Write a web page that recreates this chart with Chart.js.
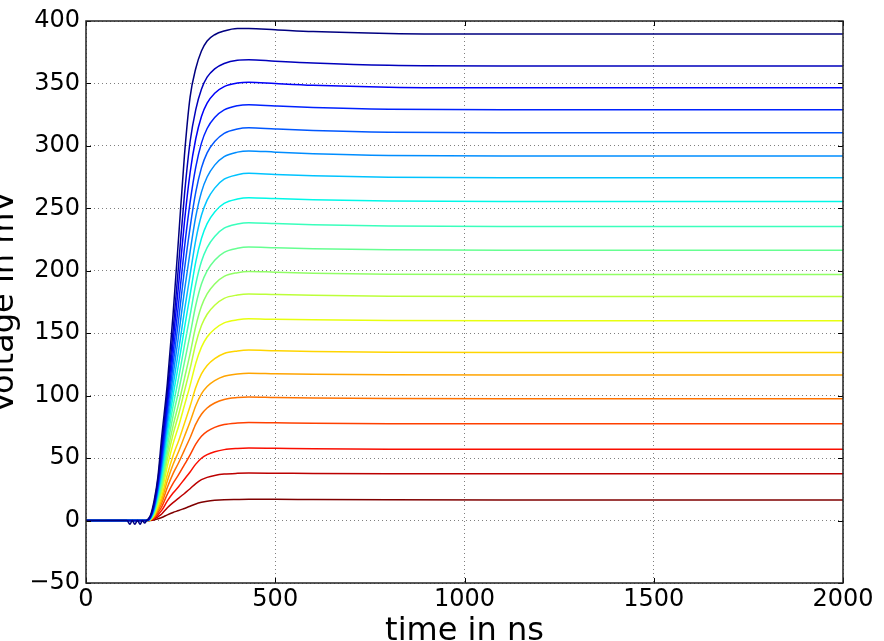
<!DOCTYPE html>
<html>
<head>
<meta charset="utf-8">
<script src="https://cdn.jsdelivr.net/npm/chart.js@4.4.1/dist/chart.umd.min.js"></script>
<style>
  html, body { margin: 0; padding: 0; background: #fff; overflow: hidden; }
  #wrap { width: 884px; height: 641px; }
</style>
</head>
<body>
<div id="wrap"><canvas id="chart" width="884" height="641"></canvas></div>
<script>
// baseline before the pulse (ns) - only the top trace shows the ringing
const baseTime   = [0, 108, 116, 122, 129, 136, 143, 149, 155];
const baseWiggle = [0, 0, -3, 0, -3, 0, -3, 0, -2];
const baseFlat   = [0, 0, 0, 0, 0, 0, 0, 0, 0];

// pulse rise and plateau (ns)
const riseTime = [160, 170, 180, 190, 200, 215, 230, 245, 260, 275, 290, 305, 320, 340, 365, 400, 430, 500, 600, 800, 1100, 2000];

// traces in mV, highest first
const trace01 = [0, 4, 16, 35, 67, 110, 165, 228, 292, 339, 362, 376, 384, 389, 392, 394, 394, 393, 391.5, 390, 389.5, 389.5];
const trace02 = [0, 3.3, 14, 32.5, 60.5, 102.6, 152, 206, 260.5, 303.3, 329.1, 345.4, 355, 361.7, 366, 368.6, 369, 367.8, 366.3, 364.5, 364, 364];
const trace03 = [0, 2.9, 12.8, 30.4, 56, 97, 142.5, 190, 238.9, 278.5, 305.7, 323.6, 334.2, 342.2, 347.5, 350.3, 351, 349.9, 348.5, 347, 346.5, 346.5];
const trace04 = [0, 2.5, 11.7, 28.3, 51.6, 91.6, 133.2, 174.8, 218.1, 254.7, 283, 302.2, 313.9, 322.7, 328.8, 332.2, 333, 332, 330.8, 329.4, 329, 329];
const trace05 = [0, 2.2, 10.7, 26.4, 47.8, 86.2, 124.5, 161.7, 200.6, 234.6, 262.9, 282.4, 294.4, 303.5, 310.1, 313.6, 314.5, 313.5, 312.3, 310.9, 310.5, 310.5];
const trace06 = [0, 1.9, 9.8, 24.6, 44.1, 80.8, 116, 148.9, 183.8, 215.2, 243.3, 263, 275.1, 284.6, 291.4, 295, 296, 295, 293.8, 292.4, 292, 292];
const trace07 = [0, 1.7, 8.9, 22.8, 40.6, 75.6, 107.9, 136.8, 167.9, 196.8, 224.6, 244.4, 256.6, 266.2, 273.3, 276.9, 278, 277.1, 276.1, 274.9, 274.5, 274.5];
const trace08 = [0, 1.5, 8.1, 21.1, 37.4, 70.2, 99.8, 125.8, 153.9, 180.6, 207.1, 225.9, 237.8, 247.1, 253.9, 257.4, 258.5, 257.8, 256.9, 255.8, 255.5, 255.5];
const trace09 = [0, 1.3, 7.4, 19.3, 34.1, 64.6, 91.6, 114.7, 140, 164.3, 189.4, 207.4, 218.6, 227.5, 234.1, 237.4, 238.5, 237.8, 236.9, 235.8, 235.5, 235.5];
const trace10 = [0, 1.1, 6.7, 17.6, 31, 59.2, 83.7, 104.1, 126.7, 148.8, 172.4, 189.4, 200, 208.5, 214.8, 218, 219, 218.4, 217.6, 216.8, 216.5, 216.5];
const trace11 = [0, 1, 6, 16, 27.9, 53.9, 75.8, 93.8, 113.7, 133.7, 155.6, 171.6, 181.5, 189.5, 195.5, 198.5, 199.5, 198.9, 198.1, 197.3, 197, 197];
const trace12 = [0, 0.9, 5.4, 14.5, 25.4, 49, 69, 85.3, 103.5, 121.6, 141.6, 156.1, 165.2, 172.4, 177.9, 180.6, 181.5, 181, 180.4, 179.7, 179.5, 179.5];
const trace13 = [0, 0.8, 4.8, 12.9, 22.6, 43.6, 61.4, 75.9, 92.1, 108.2, 126, 138.9, 147, 153.4, 158.3, 160.7, 161.5, 161.1, 160.7, 160.2, 160, 160];
const trace14 = [0, 0.7, 4.1, 10.9, 19.1, 36.9, 51.9, 64.2, 77.8, 91.5, 106.5, 117.4, 124.2, 129.7, 133.8, 135.8, 136.5, 136, 135.4, 134.7, 134.5, 134.5];
const trace15 = [0, 0.6, 3.5, 9.4, 16.5, 31.9, 44.8, 55.5, 67.3, 79.1, 92, 101.5, 107.4, 112.1, 115.6, 117.4, 118, 117.6, 117.2, 116.7, 116.5, 116.5];
const trace16 = [0, 0.5, 3, 7.9, 13.9, 26.7, 37.6, 46.5, 56.4, 66.3, 77.2, 85.1, 90.1, 94.1, 97, 98.5, 99, 98.6, 98.2, 97.7, 97.5, 97.5];
const trace17 = [0, 0.4, 2.4, 6.3, 11, 21.2, 29.8, 36.9, 44.7, 52.6, 61.2, 67.5, 71.4, 74.6, 76.9, 78.1, 78.5, 78.3, 78, 77.6, 77.5, 77.5];
const trace18 = [0, 0.3, 1.7, 4.6, 8.1, 15.7, 22, 27.3, 33.1, 38.9, 45.2, 49.9, 52.8, 55.1, 56.8, 57.7, 58, 57.8, 57.5, 57.1, 57, 57];
const trace19 = [0, 0.2, 1.1, 3, 5.3, 10.3, 14.4, 17.9, 21.7, 25.5, 29.6, 32.7, 34.6, 36.1, 37.2, 37.8, 38, 37.9, 37.7, 37.5, 37.5, 37.5];
const trace20 = [0, 0.1, 0.5, 1.4, 2.4, 4.6, 6.5, 8, 9.7, 11.4, 13.3, 14.6, 15.5, 16.2, 16.7, 16.9, 17, 17, 16.8, 16.6, 16.5, 16.5];

const traces = [trace01, trace02, trace03, trace04, trace05, trace06, trace07, trace08, trace09, trace10,
                trace11, trace12, trace13, trace14, trace15, trace16, trace17, trace18, trace19, trace20];

// jet colormap, top trace = dark blue, bottom = dark red
const jetColors = [
  'rgb(0,0,128)', 'rgb(0,0,188)', 'rgb(0,0,249)', 'rgb(0,34,255)', 'rgb(0,87,255)',
  'rgb(0,141,255)', 'rgb(0,195,255)', 'rgb(0,248,232)', 'rgb(58,255,188)', 'rgb(102,255,145)',
  'rgb(145,255,102)', 'rgb(188,255,58)', 'rgb(232,255,15)', 'rgb(255,213,0)', 'rgb(255,164,0)',
  'rgb(255,114,0)', 'rgb(255,64,0)', 'rgb(250,14,0)', 'rgb(188,0,0)', 'rgb(128,0,0)'
];

const allTime = baseTime.concat(riseTime);

const datasets = traces.map((tr, i) => {
  const base = i === 0 ? baseWiggle : baseFlat;
  const ys = base.concat(tr);
  return {
    label: 'trace ' + (i + 1),
    data: allTime.map((t, j) => ({ x: t, y: ys[j] })),
    borderColor: jetColors[i],
    borderWidth: 1.5,
    pointRadius: 0,
    fill: false,
    cubicInterpolationMode: 'monotone'
  };
});

// frame + inward tick marks like matplotlib
const framePlugin = {
  id: 'frame',
  afterDatasetsDraw(chart) {
    const { ctx, chartArea: a, scales } = chart;
    ctx.save();
    ctx.strokeStyle = '#000';
    ctx.lineWidth = 1;
    ctx.beginPath();
    scales.x.ticks.forEach(t => {
      const px = Math.round(scales.x.getPixelForValue(t.value)) + 0.5;
      ctx.moveTo(px, a.bottom); ctx.lineTo(px, a.bottom - 5);
      ctx.moveTo(px, a.top); ctx.lineTo(px, a.top + 5);
    });
    scales.y.ticks.forEach(t => {
      const py = Math.round(scales.y.getPixelForValue(t.value)) + 0.5;
      ctx.moveTo(a.left, py); ctx.lineTo(a.left + 5, py);
      ctx.moveTo(a.right, py); ctx.lineTo(a.right - 5, py);
    });
    ctx.stroke();
    ctx.strokeStyle = '#222';
    ctx.lineWidth = 1.5;
    ctx.strokeRect(a.left, a.top, a.width, a.height);
    ctx.restore();
  }
};

Chart.defaults.font.family = "'DejaVu Sans'";
Chart.defaults.color = '#000';

const chart1 = document.getElementById('chart');

new Chart(chart1, {
  type: 'line',
  data: { datasets: datasets },
  options: {
    responsive: false,
    animation: false,
    layout: { padding: { top: 21, right: 41, bottom: 0, left: 0 } },
    plugins: { legend: { display: false }, tooltip: { enabled: false } },
    scales: {
      x: {
        type: 'linear',
        min: 0,
        max: 2000,
        afterFit(scale) { scale.height = 58; },
        ticks: { stepSize: 500, padding: 2, font: { size: 24 }, maxRotation: 0, callback: v => String(v) },
        grid: { color: 'rgba(0,0,0,0.5)', drawTicks: false, lineWidth: 1 },
        border: { display: false, dash: [1, 3] },
        title: { display: true, text: 'time in ns', font: { size: 32, lineHeight: 1 }, padding: { top: 0, bottom: -7 } }
      },
      y: {
        min: -50,
        max: 400,
        afterFit(scale) { scale.width = 86; },
        ticks: {
          stepSize: 50,
          padding: 6,
          font: { size: 24 },
          callback: v => v < 0 ? '\u2212' + Math.abs(v) : String(v)
        },
        grid: { color: 'rgba(0,0,0,0.5)', drawTicks: false, lineWidth: 1 },
        border: { display: false, dash: [1, 3] },
        title: { display: true, text: 'Voltage in mV', font: { size: 32, lineHeight: 1 }, padding: { top: -11, bottom: 0 } }
      }
    }
  },
  plugins: [framePlugin]
});
</script>
</body>
</html>
